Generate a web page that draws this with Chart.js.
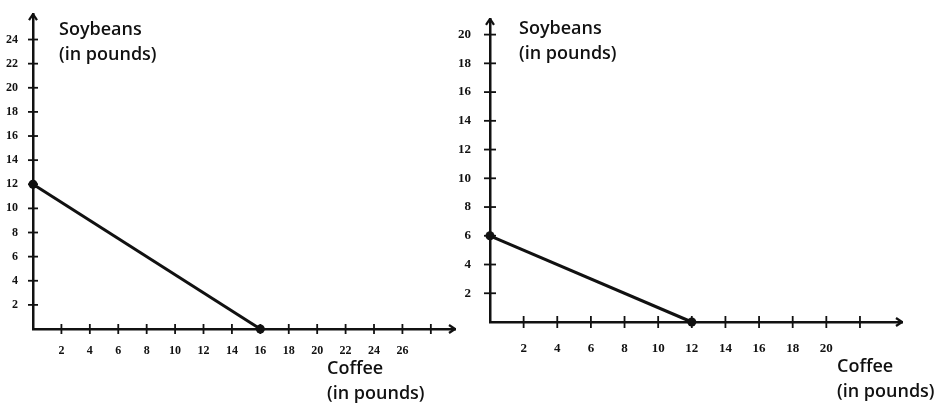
<!DOCTYPE html>
<html>
<head>
<meta charset="utf-8">
<script src="https://cdn.jsdelivr.net/npm/chart.js@4"></script>
<style>
body{margin:0;background:#fff;width:940px;height:409px;position:relative;overflow:hidden}
canvas{position:absolute;top:0}
.lbl{position:absolute;font-family:'Open Sans';font-weight:600;font-size:18px;line-height:25px;color:#111;white-space:nowrap}
</style>
</head>
<body>
<canvas id="left" width="465" height="409" style="left:0"></canvas>
<canvas id="right" width="485" height="409" style="left:455px"></canvas>
<div class="lbl" style="left:59px;top:16px">Soybeans<br>(in pounds)</div>
<div class="lbl" style="left:327px;top:355px">Coffee<br>(in pounds)</div>
<div class="lbl" style="left:519px;top:15px">Soybeans<br>(in pounds)</div>
<div class="lbl" style="left:837px;top:353px">Coffee<br>(in pounds)</div>
<script>
// left graph: PPF from 12 soybeans to 16 coffee
const leftCoffee = [0, 16]
const leftSoy = [12, 0]
const leftXMarks = [2, 4, 6, 8, 10, 12, 14, 16, 18, 20, 22, 24, 26, 28]
const leftXLabels = [2, 4, 6, 8, 10, 12, 14, 16, 18, 20, 22, 24, 26]
const leftYMarks = [2, 4, 6, 8, 10, 12, 14, 16, 18, 20, 22, 24]
// right graph: PPF from 6 soybeans to 12 coffee
const rightCoffee = [0, 12]
const rightSoy = [6, 0]
const rightXMarks = [2, 4, 6, 8, 10, 12, 14, 16, 18, 20, 22]
const rightXLabels = [2, 4, 6, 8, 10, 12, 14, 16, 18, 20]
const rightYMarks = [2, 4, 6, 8, 10, 12, 14, 16, 18, 20]

const ink = '#111'

let axisDeco = {
	id: 'axisDeco',
	afterDraw(chart, args, opts) {
		const { ctx, chartArea: a, scales: { x, y } } = chart
		let seg = (x1, y1, x2, y2) => { ctx.beginPath(); ctx.moveTo(x1, y1); ctx.lineTo(x2, y2); ctx.stroke() }
		ctx.save()
		ctx.strokeStyle = ink
		ctx.lineWidth = 1.8
		x.ticks.forEach(t => {
			let px = x.getPixelForValue(t.value)
			seg(px, a.bottom - opts.len, px, a.bottom + opts.len)
		})
		y.ticks.forEach(t => {
			let py = y.getPixelForValue(t.value)
			seg(a.left - opts.len, py, a.left + opts.len, py)
		})
		ctx.lineWidth = 2.2
		// arrow heads
		seg(a.left - 4, a.top + 6, a.left, a.top)
		seg(a.left + 4, a.top + 6, a.left, a.top)
		seg(a.right - 6, a.bottom - 4, a.right, a.bottom)
		seg(a.right - 6, a.bottom + 4, a.right, a.bottom)
		ctx.restore()
	}
}

let makeChart = (id, cfg) => {
	let pts = cfg.xs.map((v, i) => ({ x: v, y: cfg.ys[i] }))
	let font = { family: 'Liberation Serif', weight: 'bold', size: cfg.fontSize }
	return new Chart(document.getElementById(id), {
		type: 'scatter',
		data: {
			datasets: [{
				data: pts,
				showLine: true,
				borderColor: ink,
				borderWidth: 3,
				backgroundColor: ink,
				pointRadius: 4.5,
				pointBorderWidth: 0,
				clip: false
			}]
		},
		options: {
			responsive: false,
			animation: false,
			events: [],
			layout: { padding: cfg.pad },
			plugins: {
				legend: { display: false },
				tooltip: { enabled: false },
				axisDeco: { len: cfg.tickLen }
			},
			scales: {
				x: {
					type: 'linear',
					min: 0,
					max: cfg.xMax,
					afterFit: s => { s.height = cfg.xAxisH },
					afterBuildTicks: s => { s.ticks = cfg.xMarks.map(v => ({ value: v })) },
					grid: { display: false },
					border: { color: ink, width: 2.5 },
					ticks: {
						color: ink,
						font: font,
						padding: cfg.xPad,
						maxRotation: 0,
						autoSkip: false,
						callback: v => cfg.xLabels.includes(v) ? String(v) : ''
					}
				},
				y: {
					type: 'linear',
					min: 0,
					max: cfg.yMax,
					afterFit: s => { s.width = cfg.yAxisW },
					afterBuildTicks: s => { s.ticks = cfg.yMarks.map(v => ({ value: v })) },
					grid: { display: false },
					border: { color: ink, width: 2.5 },
					ticks: {
						color: ink,
						font: font,
						padding: cfg.yPad,
						autoSkip: false,
						callback: v => String(v)
					}
				}
			}
		},
		plugins: [axisDeco]
	})
}

makeChart('left', {
	xs: leftCoffee, ys: leftSoy,
	xMarks: leftXMarks, xLabels: leftXLabels, yMarks: leftYMarks,
	xMax: 29.7, yMax: 26.1,
	pad: { left: 0, top: 10, right: 10, bottom: 0 },
	xAxisH: 80, yAxisW: 33,
	xPad: 7, yPad: 7, tickLen: 5, fontSize: 12
})
makeChart('right', {
	xs: rightCoffee, ys: rightSoy,
	xMarks: rightXMarks, xLabels: rightXLabels, yMarks: rightYMarks,
	xMax: 24.5, yMax: 21.1,
	pad: { left: 0, top: 18, right: 38, bottom: 0 },
	xAxisH: 87, yAxisW: 35,
	xPad: 11, yPad: 11, tickLen: 6, fontSize: 13
})
</script>
</body>
</html>
